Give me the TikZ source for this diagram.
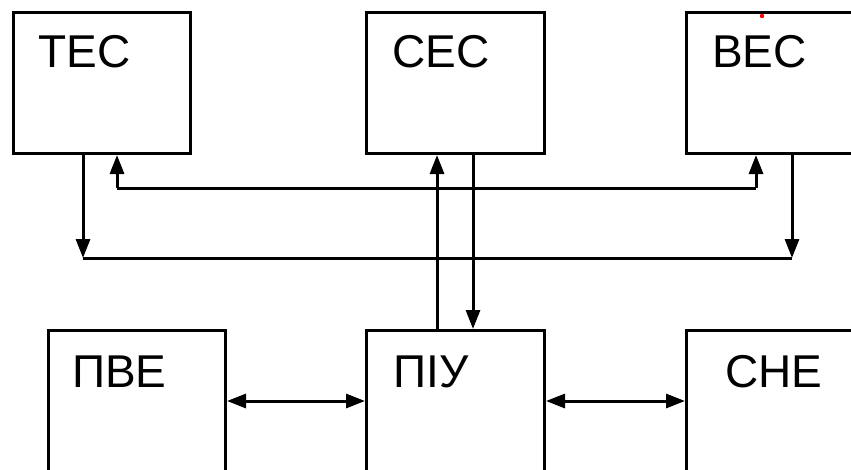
\documentclass[tikz,border=0pt]{standalone}
\usepackage{fontspec}
\setmainfont{Liberation Sans}
\usetikzlibrary{arrows.meta}
\begin{document}
\begin{tikzpicture}[x=1pt,y=-1pt,
  box/.style={draw, line width=3pt, minimum width=177pt, minimum height=141pt, inner sep=0pt, anchor=north west},
  lab/.style={font=\fontsize{46}{46}\selectfont, anchor=base west, inner sep=0pt},
  ln/.style={line width=3pt},
  tip/.tip={Triangle[length=19pt,width=14pt]},
  arr/.style={line width=3pt, -tip},
  darr/.style={line width=3pt, tip-tip}]
\useasboundingbox (0,0) rectangle (851,469);
\clip (0,0) rectangle (851,469);
% boxes
\node[box] (tes) at (12,11) {};
\node[box, minimum width=178pt] (ces) at (365,11) {};
\node[box] (bes) at (685,11) {};
\node[box] (pve) at (47,329) {};
\node[box, minimum width=178pt] (piu) at (365,329) {};
\node[box] (sne) at (685,329) {};
% labels
\node[lab] (ltes) at (38.5,67) {ТЕС};
\node[lab] (lces) at (392,67) {СЕС};
\node[lab] (lbes) at (712,67) {ВЕС};
\node[lab] (lpve) at (72,387) {ПВЕ};
\node[lab] (lpiu) at (393,387) {ПІУ};
\node[lab] (lsne) at (725,387) {СНЕ};
\fill[red] (762,16) circle (2.2pt);
% coordinates
\coordinate (busL) at (83,258);
\coordinate (busR) at (792,258);
\coordinate (retL) at (117,188);
\coordinate (retR) at (756,188);
\coordinate (cu) at (437,0);
\coordinate (cd) at (473,0);
\coordinate (h) at (0,401);
% connectors
\draw[ln] (busL) -- (busR);
\draw[arr] (tes.south -| busL) -- (busL);
\draw[arr] (bes.south -| busR) -- (busR);
\draw[ln] (retL) -- (retR);
\draw[arr] (retL) -- (retL |- tes.south);
\draw[arr] (retR) -- (retR |- bes.south);
\draw[arr] (cu |- piu.north) -- (cu |- ces.south);
\draw[arr] (cd |- ces.south) -- (cd |- piu.north);
\draw[darr] (pve.east |- h) -- (piu.west |- h);
\draw[darr] (piu.east |- h) -- (sne.west |- h);
\end{tikzpicture}
\end{document}
